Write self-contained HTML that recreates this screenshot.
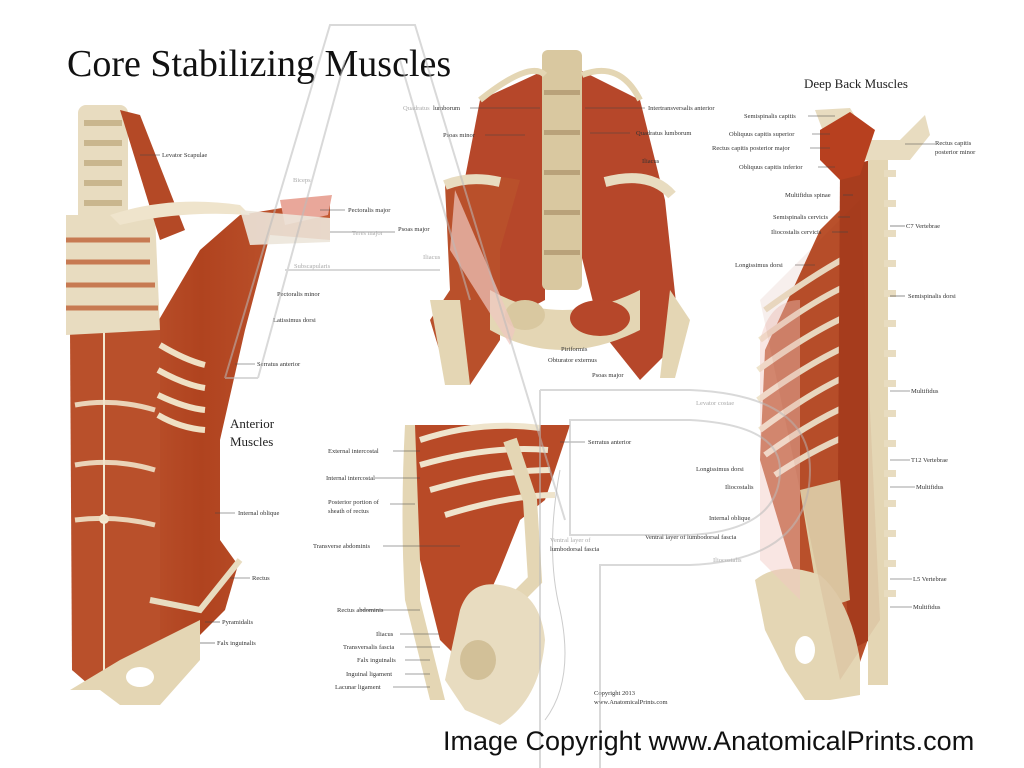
<!DOCTYPE html>
<html><head><meta charset="utf-8"><style>
html,body{margin:0;padding:0;background:#fff}
svg{display:block}
text{font-family:"Liberation Serif",serif}
.l{font-size:6.5px;fill:#333}
.g{font-size:6.5px;fill:#aaa}
.ln{stroke:#444;stroke-width:.6}
</style></head><body>
<svg width="1024" height="768" viewBox="0 0 1024 768" xmlns="http://www.w3.org/2000/svg">
<rect width="1024" height="768" fill="#fff"/>
<defs>
<linearGradient id="m" x1="0" x2="1"><stop offset="0" stop-color="#c4603a"/><stop offset=".5" stop-color="#b0431f"/><stop offset="1" stop-color="#c25a33"/></linearGradient>
</defs>

<path d="M72,330 L150,335 L200,250 L240,215 L330,200 L330,240 L270,235 L245,330 L220,440 L220,540 L238,565 L225,610 L190,645 L150,680 L100,690 L72,670 Z" fill="url(#m)"/>
<path d="M70,330 L160,330 L160,665 L95,690 L72,670 Z" fill="#b9502b"/>
<line x1="104" y1="330" x2="104" y2="690" stroke="#f4e8d0" stroke-width="2"/>
<circle cx="104" cy="519" r="5" fill="#f4e8d0"/>
<g stroke="#f0e2c8" stroke-width="5" opacity=".9">
<path d="M75,405 Q115,398 155,410" fill="none"/><path d="M75,465 Q115,458 155,470" fill="none"/><path d="M75,520 Q115,515 155,525" fill="none"/>
</g>
<path d="M150,600 L200,610 L240,560" stroke="#e8dcc0" stroke-width="6" fill="none"/>
<path d="M70,690 L120,660 L200,620 L200,660 L160,705 L120,705 L100,690 Z" fill="#e4d6b4"/>
<ellipse cx="140" cy="677" rx="14" ry="10" fill="#fff"/>
<rect x="78" y="105" width="50" height="125" rx="8" fill="#e8dcc0"/>
<g fill="#c9b68e"><rect x="84" y="120" width="38" height="6"/><rect x="84" y="140" width="38" height="6"/><rect x="84" y="160" width="38" height="6"/><rect x="84" y="180" width="38" height="6"/><rect x="84" y="200" width="38" height="6"/></g>
<path d="M66,215 L155,215 L160,330 L66,335 Z" fill="#e8dcc0"/>
<g stroke="#c77a52" stroke-width="5"><line x1="66" y1="240" x2="150" y2="240"/><line x1="66" y1="262" x2="150" y2="262"/><line x1="66" y1="285" x2="155" y2="285"/><line x1="66" y1="308" x2="158" y2="308"/></g>
<path d="M120,110 L140,115 L185,230 L160,240 Z" fill="#b44926"/>
<path d="M110,215 Q170,195 240,205 L250,215 Q180,210 120,225 Z" fill="#efe4cc"/>
<path d="M160,345 Q185,360 205,365 M158,370 Q185,385 205,388 M158,395 Q185,408 205,410 M158,415 Q180,428 205,430" stroke="#efe0c4" stroke-width="6" fill="none"/>
<path d="M280,200 L332,195 L328,215 L285,225 Z" fill="#e9a79a"/>
<path d="M240,210 L330,218 L330,242 L250,245 Z" fill="#ece6da" opacity=".9"/>
<text x="67" y="76" style="font-size:38px" fill="#111">Core Stabilizing Muscles</text>
<g class="ln"><line x1="140" y1="155" x2="160" y2="155"/><line x1="320" y1="210" x2="345" y2="210"/><line x1="330" y1="232" x2="395" y2="232"/><line x1="235" y1="364" x2="255" y2="364"/><line x1="215" y1="513" x2="235" y2="513"/><line x1="230" y1="578" x2="250" y2="578"/><line x1="205" y1="622" x2="220" y2="622"/><line x1="200" y1="643" x2="215" y2="643"/></g>
<text class="l" x="162" y="157">Levator Scapulae</text>
<text class="g" x="293" y="182">Biceps</text>
<text class="l" x="348" y="212">Pectoralis major</text>
<text class="g" x="352" y="235">Teres major</text>
<text class="l" x="398" y="231">Psoas major</text>
<text class="g" x="294" y="268">Subscapularis</text>
<text class="l" x="277" y="296">Pectoralis minor</text>
<text class="l" x="273" y="322">Latissimus dorsi</text>
<text class="l" x="257" y="366">Serratus anterior</text>
<text x="230" y="428" style="font-size:13px" fill="#222">Anterior</text>
<text x="230" y="446" style="font-size:13px" fill="#222">Muscles</text>
<text class="l" x="238" y="515">Internal oblique</text>
<text class="l" x="252" y="580">Rectus</text>
<text class="l" x="222" y="624">Pyramidalis</text>
<text class="l" x="217" y="645">Falx inguinalis</text>

<path d="M480,100 L545,70 L545,300 L470,340 L455,230 Z" fill="#b6472a"/>
<path d="M580,70 L640,100 L665,200 L680,340 L640,380 L600,330 L580,250 Z" fill="#b6472a"/>
<rect x="542" y="50" width="40" height="240" rx="6" fill="#d9c8a0"/>
<g fill="#b9a27a"><rect x="544" y="90" width="36" height="5"/><rect x="544" y="130" width="36" height="5"/><rect x="544" y="170" width="36" height="5"/><rect x="544" y="210" width="36" height="5"/><rect x="544" y="250" width="36" height="5"/></g>
<path d="M480,100 Q530,60 545,75 M582,75 Q620,60 640,100" stroke="#e4d6b4" stroke-width="6" fill="none"/>
<path d="M445,185 Q470,170 520,180 L500,250 L500,340 L470,385 L450,385 L430,320 L450,290 Z" fill="#b9502b"/>
<path d="M445,185 Q470,175 500,182" stroke="#e8dcc0" stroke-width="10" fill="none"/>
<path d="M605,182 Q650,170 672,195" stroke="#e8dcc0" stroke-width="10" fill="none"/>
<path d="M490,290 Q560,330 640,290 L640,330 Q560,370 490,330 Z" fill="#e4d6b4"/>
<ellipse cx="525" cy="315" rx="20" ry="15" fill="#d9c8a0"/>
<ellipse cx="600" cy="318" rx="30" ry="18" fill="#b6472a"/>
<path d="M430,300 L445,385 L470,385 L460,300 Z" fill="#e4d6b4"/>
<path d="M670,290 L690,320 L675,378 L660,378 Z" fill="#e4d6b4"/>
<path d="M455,190 L515,330 L510,345 L450,250 Z" fill="#f0c8c0" opacity=".7"/>
<g class="ln"><line x1="470" y1="108" x2="540" y2="108"/><line x1="485" y1="135" x2="525" y2="135"/><line x1="585" y1="108" x2="645" y2="108"/><line x1="590" y1="133" x2="630" y2="133"/></g>
<text class="g" x="403" y="110">Quadratus</text><text class="l" x="433" y="110">lumborum</text>
<text class="l" x="443" y="137">Psoas minor</text>
<text class="l" x="648" y="110">Intertransversalis anterior</text>
<text class="l" x="636" y="135">Quadratus lumborum</text>
<text class="l" x="642" y="163">Iliacus</text>
<text class="g" x="423" y="259">Iliacus</text>
<text class="l" x="561" y="351">Piriformis</text>
<text class="l" x="548" y="362">Obturator externus</text>
<text class="l" x="592" y="377">Psoas major</text>

<path d="M405,425 Q400,520 405,600 L430,700 L445,700 L420,600 L420,425 Z" fill="#e4d6b4"/>
<path d="M415,425 L570,425 L545,500 L520,520 L500,570 L460,660 L440,640 L420,560 Z" fill="#b84a27"/>
<path d="M420,440 Q480,420 540,428 M420,465 Q490,445 548,450 M430,490 Q500,470 550,470 M445,515 Q510,495 555,495" stroke="#efe4cc" stroke-width="6" fill="none"/>
<path d="M510,440 L530,500 L535,580 L515,600" stroke="#e4d6b4" stroke-width="14" fill="none"/>
<path d="M460,610 Q470,580 500,585 Q540,590 545,640 Q540,700 500,725 L465,710 L445,680 Z" fill="#e8dcc0"/>
<ellipse cx="478" cy="660" rx="18" ry="20" fill="#d2c098"/>
<path d="M560,470 Q545,550 560,610 Q575,680 545,720" stroke="#ccc" stroke-width="1" fill="none"/>
<g class="ln"><line x1="393" y1="451" x2="420" y2="451"/><line x1="375" y1="478" x2="420" y2="478"/><line x1="390" y1="504" x2="415" y2="504"/><line x1="383" y1="546" x2="460" y2="546"/><line x1="360" y1="610" x2="420" y2="610"/><line x1="400" y1="634" x2="440" y2="634"/><line x1="405" y1="647" x2="440" y2="647"/><line x1="405" y1="660" x2="430" y2="660"/><line x1="405" y1="674" x2="430" y2="674"/><line x1="393" y1="687" x2="430" y2="687"/><line x1="560" y1="442" x2="585" y2="442"/></g>
<text class="l" x="328" y="453">External intercostal</text>
<text class="l" x="326" y="480">Internal intercostal</text>
<text class="l" x="328" y="504">Posterior portion of</text><text class="l" x="328" y="513">sheath of rectus</text>
<text class="l" x="313" y="548">Transverse abdominis</text>
<text class="l" x="337" y="612">Rectus abdominis</text>
<text class="l" x="376" y="636">Iliacus</text>
<text class="l" x="343" y="649">Transversalis fascia</text>
<text class="l" x="357" y="662">Falx inguinalis</text>
<text class="l" x="346" y="676">Inguinal ligament</text>
<text class="l" x="335" y="689">Lacunar ligament</text>
<text class="l" x="588" y="444">Serratus anterior</text>
<text class="g" x="550" y="542">Ventral layer of</text><text class="l" x="550" y="551">lumbodorsal fascia</text>
<text class="l" x="594" y="695">Copyright 2013</text><text class="l" x="594" y="704">www.AnatomicalPrints.com</text>

<path d="M820,230 L880,170 L875,620 L850,690 L820,640 L790,560 L760,460 L765,350 Z" fill="#b9502b"/>
<g stroke="#efe4cc" stroke-width="6" fill="none">
<path d="M765,310 Q820,270 860,250"/><path d="M760,340 Q820,295 860,280"/><path d="M758,370 Q820,325 862,310"/><path d="M758,400 Q820,355 862,340"/><path d="M760,430 Q820,385 862,370"/><path d="M765,455 Q820,415 862,400"/><path d="M775,475 Q820,445 862,430"/>
</g>
<path d="M840,170 L870,160 L870,640 L850,650 L838,480 Z" fill="#a83d1e"/>
<rect x="868" y="155" width="20" height="530" fill="#e4d6b4"/>
<g fill="#e8dcc0">
<rect x="884" y="170" width="12" height="7"/><rect x="884" y="200" width="12" height="7"/><rect x="884" y="230" width="12" height="7"/><rect x="884" y="260" width="12" height="7"/><rect x="884" y="290" width="12" height="7"/><rect x="884" y="320" width="12" height="7"/><rect x="884" y="350" width="12" height="7"/><rect x="884" y="380" width="12" height="7"/><rect x="884" y="410" width="12" height="7"/><rect x="884" y="440" width="12" height="7"/><rect x="884" y="470" width="12" height="7"/><rect x="884" y="500" width="12" height="7"/><rect x="884" y="530" width="12" height="7"/><rect x="884" y="560" width="12" height="7"/><rect x="884" y="590" width="12" height="7"/></g>
<path d="M815,110 L850,108 L870,140 L900,140 L925,115 L930,135 L910,160 L850,160 L830,150 Z" fill="#e8dcc0"/>
<path d="M820,130 L850,112 L875,130 L860,175 L840,180 L820,160 Z" fill="#b7401f"/>
<path d="M800,490 L840,480 L850,600 L820,610 Z" fill="#e0d0aa"/>
<path d="M755,580 Q780,560 820,575 Q850,600 860,660 L860,695 L830,700 L805,700 L785,670 L765,630 Z" fill="#e4d6b4"/>
<ellipse cx="805" cy="650" rx="10" ry="14" fill="#fff"/>
<path d="M760,340 Q770,300 800,300 L800,600 L760,560 Z" fill="#f2c8c0" opacity=".45"/>
<text x="804" y="88" style="font-size:13px" fill="#222">Deep Back Muscles</text>
<g class="ln"><line x1="808" y1="116" x2="835" y2="116"/><line x1="812" y1="134" x2="830" y2="134"/><line x1="810" y1="148" x2="830" y2="148"/><line x1="818" y1="167" x2="835" y2="167"/><line x1="843" y1="195" x2="853" y2="195"/><line x1="838" y1="217" x2="850" y2="217"/><line x1="832" y1="232" x2="848" y2="232"/><line x1="795" y1="265" x2="815" y2="265"/><line x1="905" y1="144" x2="935" y2="144"/><line x1="890" y1="226" x2="905" y2="226"/><line x1="890" y1="296" x2="905" y2="296"/><line x1="890" y1="391" x2="910" y2="391"/><line x1="890" y1="460" x2="910" y2="460"/><line x1="890" y1="487" x2="915" y2="487"/><line x1="890" y1="579" x2="912" y2="579"/><line x1="890" y1="607" x2="912" y2="607"/></g>
<text class="l" x="744" y="118">Semispinalis capitis</text>
<text class="l" x="729" y="136">Obliquus capitis superior</text>
<text class="l" x="712" y="150">Rectus capitis posterior major</text>
<text class="l" x="739" y="169">Obliquus capitis inferior</text>
<text class="l" x="785" y="197">Multifidus spinae</text>
<text class="l" x="773" y="219">Semispinalis cervicis</text>
<text class="l" x="771" y="234">Iliocostalis cervicis</text>
<text class="l" x="735" y="267">Longissimus dorsi</text>
<text class="l" x="935" y="145">Rectus capitis</text><text class="l" x="935" y="154">posterior minor</text>
<text class="l" x="906" y="228">C7 Vertebrae</text>
<text class="l" x="908" y="298">Semispinalis dorsi</text>
<text class="l" x="911" y="393">Multifidus</text>
<text class="g" x="696" y="405">Levator costae</text>
<text class="l" x="911" y="462">T12 Vertebrae</text>
<text class="l" x="916" y="489">Multifidus</text>
<text class="l" x="696" y="471">Longissimus dorsi</text>
<text class="l" x="725" y="489">Iliocostalis</text>
<text class="l" x="709" y="520">Internal oblique</text>
<text class="l" x="645" y="539">Ventral layer of lumbodorsal fascia</text>
<text class="g" x="713" y="562">Iliocostalis</text>
<text class="l" x="913" y="581">L5 Vertebrae</text>
<text class="l" x="913" y="609">Multifidus</text>

<g fill="none" stroke="#bbb" stroke-width="2" opacity=".55">
<path d="M225,378 L330,25 L415,25 L565,520"/>
<path d="M258,378 L345,60"/><path d="M400,60 L470,300"/>
<path d="M285,270 L440,270"/>
<path d="M225,378 L258,378"/>
<path d="M540,390 L690,390 Q810,395 810,470 Q810,560 690,565 L600,565 L600,768"/>
<path d="M570,420 L690,420 Q780,425 780,470 Q780,530 690,535 L570,535 Z"/>
<path d="M540,390 L540,768"/>
</g>
<path d="M760,300 L860,200 L880,620 L840,680 Z" fill="#9a3618" opacity=".08"/>

<text x="443" y="750" style="font-family:'Liberation Sans',sans-serif;font-size:27px" fill="#111">Image Copyright www.AnatomicalPrints.com</text>
</svg>
</body></html>
